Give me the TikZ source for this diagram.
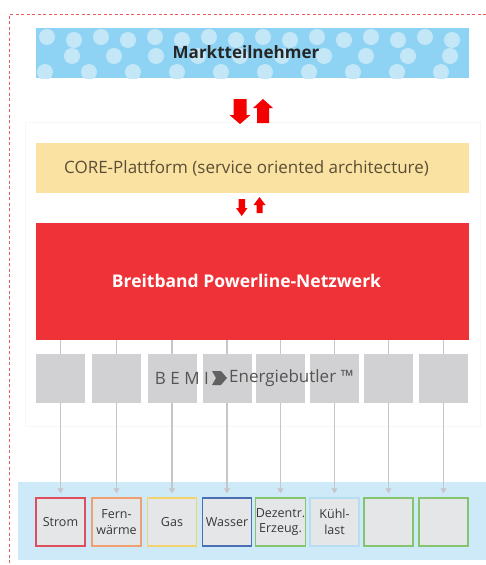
\documentclass[tikz,border=0pt]{standalone}
\usepackage{fontspec}
\setmainfont{Open Sans}
\usetikzlibrary{arrows.meta}

\definecolor{frame}{HTML}{EC5A60}
\definecolor{sky}{HTML}{8ED3F3}
\definecolor{skydot}{HTML}{C4E7F8}
\definecolor{core}{HTML}{FAE2A2}
\definecolor{coretext}{HTML}{5C4E36}
\definecolor{net}{HTML}{EE3237}
\definecolor{arrowred}{HTML}{F40000}
\definecolor{unit}{HTML}{D1D1D3}
\definecolor{unittext}{HTML}{555555}
\definecolor{wire}{HTML}{C6C6C8}
\definecolor{pale}{HTML}{CEEAF8}
\definecolor{cell}{HTML}{E5E6E8}
\definecolor{cRed}{HTML}{DE4E5C}
\definecolor{cOrange}{HTML}{F0A070}
\definecolor{cYellow}{HTML}{F3D270}
\definecolor{cBlue}{HTML}{4C6FB4}
\definecolor{cGreen}{HTML}{86C470}
\definecolor{cIce}{HTML}{B6DDF2}

\tikzset{
  layer/.style={minimum width=433pt, minimum height=50pt, inner sep=0pt, anchor=center},
  unitbox/.style={fill=unit, minimum width=49pt, minimum height=49pt, inner sep=0pt},
  cellbox/.style={fill=cell, draw=#1, line width=1.3pt, minimum width=49pt, minimum height=48pt,
    inner sep=0pt, align=center, font=\fontsize{12.5}{15.5}\selectfont, text=black!78},
  wireline/.style={draw=wire, line width=1.5pt},
  feed/.style={wireline, -{Triangle[width=6pt,length=5pt]}, shorten >=4pt},
  blockarrow/.style={fill=arrowred, draw=none},
}

\begin{document}
\begin{tikzpicture}[x=1pt,y=-1pt]
\useasboundingbox (0,0) rectangle (486,565);

% dashed red frame (top and left edges)
\draw[frame, line width=0.9pt, dash pattern=on 3pt off 2.5pt] (486,14) -- (9,14) -- (9,565);

% faint inner panel
\draw[draw=black!3, line width=0.8pt] (25,122) rectangle (480,426);

% market participants band with dots
\fill[sky] (36,28) rectangle (469,78);
\begin{scope}
  \clip (36,28) rectangle (469,78);
  \foreach \k in {0,...,16} {
    \fill[skydot] ({47+27*\k},{37+3*mod(\k,2)}) circle (8);
  }
  \foreach \k in {0,...,10} {
    \fill[skydot] ({72+42*\k},56) circle (8);
  }
  \foreach \k in {0,...,10} {
    \fill[skydot] ({45+44*\k},72) circle (8);
  }
\end{scope}
\node[layer, font=\fontsize{17}{20}\bfseries, text=black!85] (mt) at (246,52) {Marktteilnehmer};

% arrows between market participants and platform
\path[blockarrow] (233.5,99) -- (246.5,99) -- (246.5,115) -- (250.5,115) -- (240,124)
  -- (229.5,115) -- (233.5,115) -- cycle;
\path[blockarrow] (257,123) -- (269,123) -- (269,108) -- (273,108) -- (263,99)
  -- (253,108) -- (257,108) -- cycle;

% platform layer
\fill[core] (36,143) rectangle (469,193);
\node[font=\fontsize{17}{20}\selectfont, text=coretext, inner sep=0pt] (core) at (246.5,168)
  {CORE-Plattform (service oriented architecture)};

% arrows between platform and network
\path[blockarrow] (238.5,199) -- (245,199) -- (245,208) -- (247.5,208) -- (241.75,216)
  -- (236,208) -- (238.5,208) -- cycle;
\path[blockarrow] (256.5,213) -- (262.5,213) -- (262.5,205) -- (265.5,205) -- (259.5,197)
  -- (253.5,205) -- (256.5,205) -- cycle;

% network layer
\node[layer, fill=net, minimum height=117pt] (net) at (252.5,281.5) {};
\node[font=\fontsize{17.5}{20}\bfseries, text=white, inner sep=0pt] (nettxt) at (246.5,281)
  {Breitband Powerline-Netzwerk};

% Energiebutler units
\foreach \i/\x in {1/60.5, 2/116.5, 3/172, 4/227, 5/280.5, 6/334.5, 7/388.5, 8/443.5} {
  \node[unitbox] (u\i) at (\x,378.5) {};
}

% pale band behind consumer cells
\fill[pale] (18,482) rectangle (486,560);

% consumer cells
\node[cellbox=cRed]    (c1) at (60.5,522)  {Strom};
\node[cellbox=cOrange] (c2) at (116.5,522) {Fern-\\wärme};
\node[cellbox=cYellow] (c3) at (172,522)   {Gas};
\node[cellbox=cBlue]   (c4) at (227,522)   {Wasser};
\node[cellbox=cGreen]  (c5) at (280.5,522) {Dezentr.\\Erzeug.};
\node[cellbox=cIce]    (c6) at (334.5,522) {Kühl-\\last};
\node[cellbox=cGreen]  (c7) at (388.5,522) {};
\node[cellbox=cGreen]  (c8) at (443.5,522) {};

% wiring from network through units to cells
\foreach \i in {1,...,8} {
  \draw[wireline] (net.south -| u\i) -- (u\i.north);
  \draw[feed] (u\i.south) -- (c\i.north);
}

% Energiebutler label
\node[anchor=east, inner sep=0pt, font=\fontsize{17}{20}\selectfont, text=unittext] (bemi)
  at (209,378) {B E M I};
\fill[black!62] (212,371) -- (221,371) -- (227,378) -- (221,385) -- (212,385) -- (216,378) -- cycle;
\node[anchor=west, inner sep=0pt, font=\fontsize{17}{20}\selectfont, text=unittext] (eb)
  at (229,378) {Energiebutler ™};
\end{tikzpicture}
\end{document}
